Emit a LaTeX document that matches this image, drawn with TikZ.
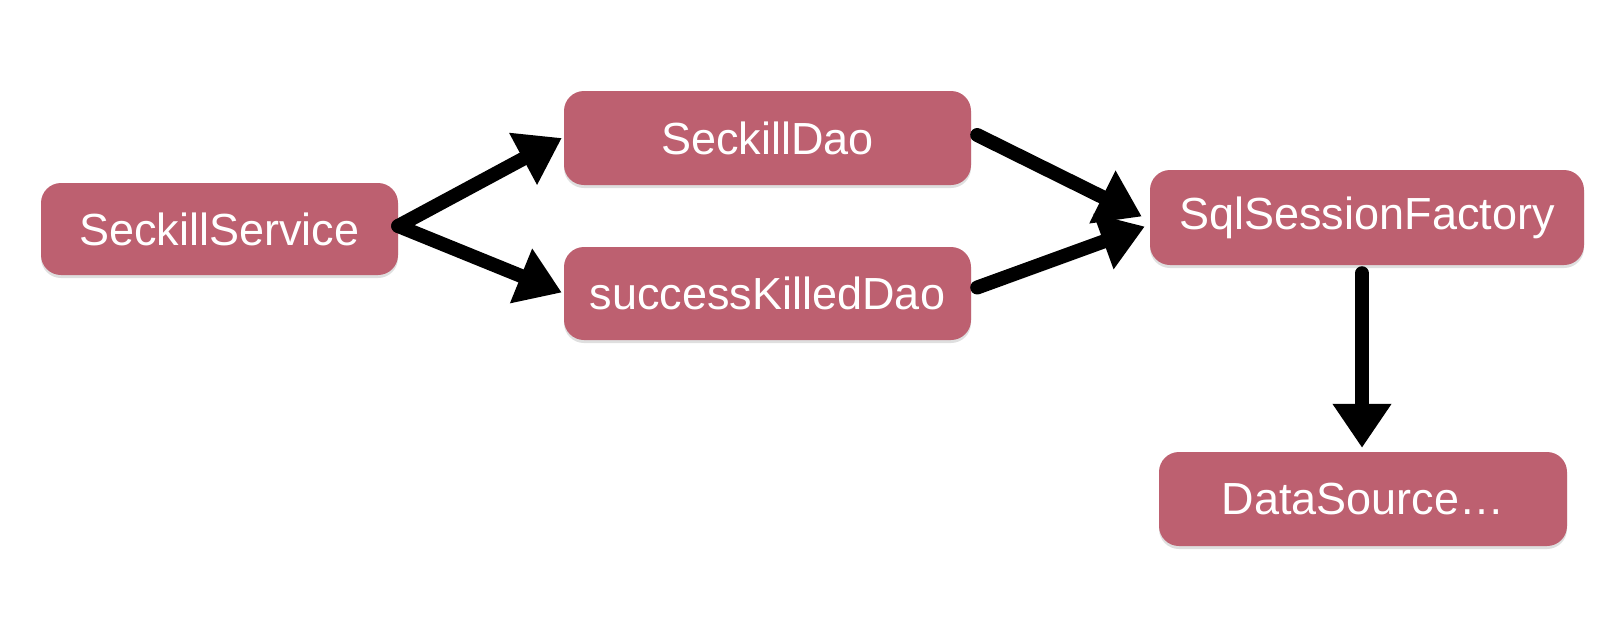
\documentclass[tikz,border=0pt]{standalone}
\usepackage{fontspec}
\setmainfont{Liberation Sans}
\usetikzlibrary{arrows.meta,shadows,calc}
\definecolor{boxred}{HTML}{BD6070}
\begin{document}
\begin{tikzpicture}[x=1pt,y=-1pt,
  box/.style={fill=boxred, rounded corners=20pt, text=white, inner sep=0pt,
    font=\fontsize{45}{52}\selectfont,
    drop shadow={shadow xshift=0pt, shadow yshift=-3pt, opacity=0.25}},
  conn/.style={line width=14pt, line cap=round, -{Triangle[length=44pt,width=56pt]}}]
\useasboundingbox[fill=white] (0,0) rectangle (1608,624);
\node[box, minimum width=357pt, minimum height=92pt] (ss) at (219.5,229) {SeckillService};
\node[box, minimum width=407pt, minimum height=94pt] (sd) at (767.5,138) {SeckillDao};
\node[box, minimum width=407pt, minimum height=93pt] (skd) at (767.5,293.5) {successKilledDao};
\node[box, minimum width=434pt, minimum height=95pt] (sf) at (1367,217.5) {SqlSessionFactory};
\node[box, minimum width=408pt, minimum height=94pt] (ds) at (1363,499) {DataSource…};
\coordinate (sA) at ($(ss.east)+(0,-3)$);
\draw[conn] (sA) -- ($(sd.west)+(-2,0)$);
\draw[conn] (sA) -- ($(skd.west)+(-2,-1)$);
\draw[conn] ($(sd.east)+(6,-3)$) -- ($(sf.west)+(-8,-1)$);
\draw[conn] ($(skd.east)+(6,-6)$) -- ($(sf.west)+(-5,9)$);
\draw[conn] ($(sf.south)+(-5,8)$) -- ($(ds.north)+(-1,-4)$);
\end{tikzpicture}
\end{document}
